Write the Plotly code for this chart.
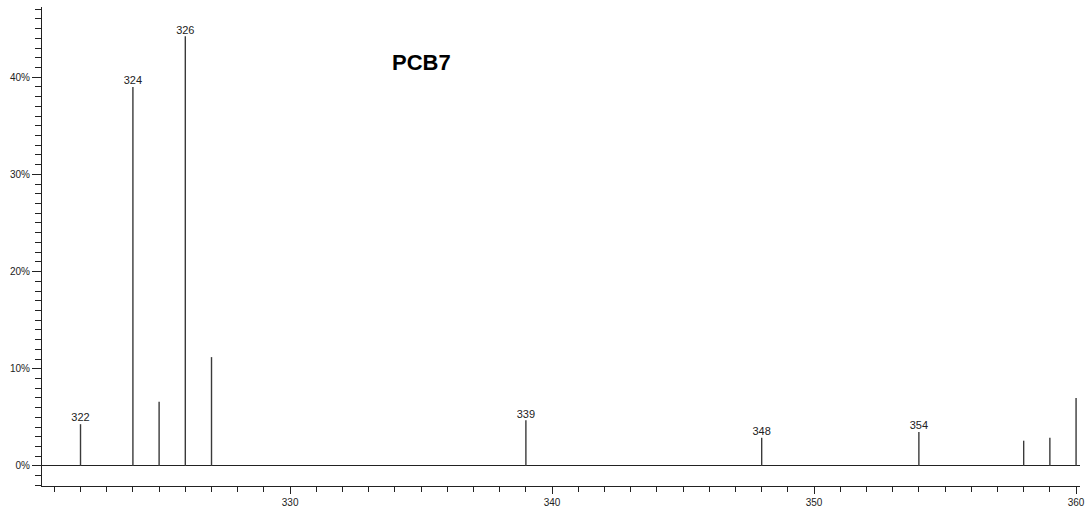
import plotly.graph_objects as go

# Mass spectrum peaks (m/z vs relative abundance %)
mz = [322, 324, 325, 326, 327, 339, 348, 354, 358, 359, 360]
abundance = [4.3, 39.0, 6.6, 44.2, 11.2, 4.7, 2.9, 3.5, 2.6, 2.9, 7.0]
labelled = [322, 324, 326, 339, 348, 354]

y_ticks = [0, 10, 20, 30, 40]
y_tick_text = ["0%", "10%", "20%", "30%", "40%"]
x_ticks = [330, 340, 350, 360]

stem_x, stem_y = [], []
for m, a in zip(mz, abundance):
    stem_x += [m, m, None]
    stem_y += [0, a, None]

fig = go.Figure()
fig.add_trace(go.Scatter(
    x=stem_x, y=stem_y, mode="lines",
    line=dict(color="#3a3a3a", width=1.4),
    hoverinfo="skip", showlegend=False,
))

lab_x = [m for m in mz if m in labelled]
lab_y = [a for m, a in zip(mz, abundance) if m in labelled]
fig.add_trace(go.Scatter(
    x=lab_x, y=lab_y, mode="text",
    text=[str(m) for m in lab_x], textposition="top center",
    textfont=dict(family="Liberation Sans, Arial, sans-serif", size=11, color="#222"),
    showlegend=False, cliponaxis=False,
))

fig.update_layout(
    width=1088, height=509,
    margin=dict(l=42, r=8, t=7, b=23, autoexpand=False),
    paper_bgcolor="white", plot_bgcolor="white",
    font=dict(family="Liberation Sans, Arial, sans-serif", size=10, color="#222"),
    xaxis=dict(
        range=[320.53, 360.15], tickvals=x_ticks, ticks="outside", ticklen=7,
        tickcolor="#222", showline=True, linecolor="#222", linewidth=1,
        showgrid=False, zeroline=False, automargin=False,
        minor=dict(dtick=1, ticks="outside", ticklen=5, tickcolor="#222"),
        tickfont=dict(size=10),
    ),
    yaxis=dict(
        range=[-2.06, 47.22], tickvals=y_ticks, ticktext=y_tick_text,
        ticks="outside", ticklen=9, tickcolor="#222",
        showline=True, linecolor="#222", linewidth=1,
        showgrid=False, zeroline=True, zerolinecolor="#222", zerolinewidth=1,
        automargin=False,
        minor=dict(dtick=1, ticks="outside", ticklen=6, tickcolor="#222"),
        tickfont=dict(size=10),
    ),
    annotations=[dict(
        text="<b>PCB7</b>", x=0.366, y=0.885, xref="paper", yref="paper",
        showarrow=False, xanchor="center", yanchor="middle",
        font=dict(family="Liberation Sans, Arial, sans-serif", size=22, color="black"),
    )],
)

fig.write_html("out.html")
